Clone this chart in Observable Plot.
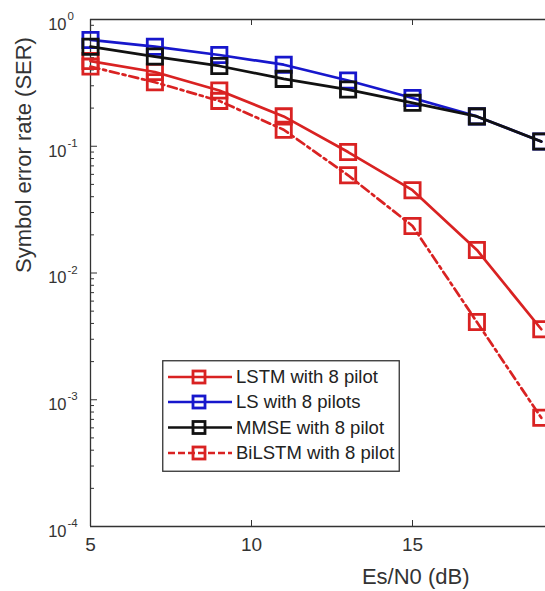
<!DOCTYPE html>
<html><head><meta charset="utf-8">
<script src="https://cdn.jsdelivr.net/npm/d3@7"></script>
<script src="https://cdn.jsdelivr.net/npm/@observablehq/plot@0.6"></script>
<style>
html,body{margin:0;padding:0;background:#fff;overflow:hidden;}
#wrap{position:relative;width:545px;height:591px;overflow:hidden;}
#legend{position:absolute;left:162px;top:360px;}
</style></head><body><div id="wrap"></div>
<script>
// Es/N0 (dB)
const snr = [5, 7, 9, 11, 13, 15, 17, 19];
// Symbol error rate per method
const lstm   = [0.47, 0.385, 0.275, 0.172, 0.090, 0.045, 0.0152, 0.0036];
const ls     = [0.69, 0.61, 0.525, 0.44, 0.33, 0.24, 0.172, 0.109];
const mmse   = [0.61, 0.51, 0.43, 0.34, 0.28, 0.22, 0.172, 0.109];
const bilstm = [0.425, 0.32, 0.228, 0.135, 0.059, 0.0235, 0.0041, 0.00072];
const seriesNames = ["LSTM with 8 pilot", "LS with 8 pilots", "MMSE with 8 pilot", "BiLSTM with 8 pilot"];
const seriesColors = ["#d92222", "#1717cc", "#111111", "#d92222"];
const seriesDash = [null, null, null, "9,4,3,4"];
const xTicks = [5, 10, 15];
const yTicks = [1, 0.1, 0.01, 0.001, 0.0001];
const yExponents = ["0", "-1", "-2", "-3", "-4"];
const xTitle = "Es/N0 (dB)";
const yTitle = "Symbol error rate (SER)";

const seriesValues = [lstm, ls, mmse, bilstm];
const FONT = '"Liberation Sans", Arial, Helvetica, sans-serif';
const axisColor = "#333333";
const minorTicks = d3.scaleLog().domain([1e-4, 1]).ticks().filter(v => !yTicks.some(t => Math.abs(Math.log10(v) - Math.log10(t)) < 1e-6));
const yLabels = yTicks.map((v, i) => ({v, e: yExponents[i]}));

const seriesMarks = [];
seriesValues.forEach((vals, i) => {
  const rows = snr.map((x, j) => ({x, y: vals[j]}));
  seriesMarks.push(Plot.line(rows, {x: "x", y: "y", stroke: seriesColors[i], strokeWidth: 2.7, strokeDasharray: seriesDash[i]}));
  seriesMarks.push(Plot.dot(rows, {x: "x", y: "y", symbol: "square", r: 8.6, stroke: seriesColors[i], strokeWidth: 2.8, fill: "none"}));
});

const chart = Plot.plot({
  width: 545, height: 591,
  marginLeft: 90, marginRight: 0, marginTop: 19, marginBottom: 65,
  x: {type: "linear", domain: [5, 20], range: [90, 573], axis: null},
  y: {type: "log", domain: [1e-4, 1], range: [526, 19], axis: null},
  style: {fontFamily: FONT, background: "white", color: axisColor},
  marks: [
    // axes box
    Plot.ruleX([5], {stroke: axisColor, strokeWidth: 1.3}),
    Plot.ruleY([1e-4], {stroke: axisColor, strokeWidth: 1.3}),
    Plot.ruleY([1], {stroke: axisColor, strokeWidth: 1.3}),
    // ticks (inside)
    Plot.ruleX(xTicks, {insetTop: 501, stroke: axisColor}),
    Plot.ruleX(xTicks, {insetBottom: 501, stroke: axisColor}),
    Plot.ruleY(yTicks, {insetRight: 448, stroke: axisColor}),
    Plot.ruleY(minorTicks, {insetRight: 451, stroke: axisColor}),
    // tick labels
    Plot.text(xTicks, {x: d => d, frameAnchor: "bottom", dy: 24, fontSize: 19, fill: axisColor, text: d => String(d)}),
    Plot.text(yLabels, {y: "v", frameAnchor: "left", dx: -24, dy: 5, textAnchor: "end", fontSize: 16.5, fill: axisColor, text: () => "10"}),
    Plot.text(yLabels, {y: "v", frameAnchor: "left", dx: -23, dy: -3, textAnchor: "start", fontSize: 11.5, fill: axisColor, text: "e"}),
    // titles
    Plot.text([xTitle], {x: () => 15.1, frameAnchor: "bottom", dy: 57, fontSize: 22, fill: axisColor, text: d => d}),
    Plot.text([yTitle], {frameAnchor: "left", dx: -67, rotate: -90, fontSize: 22, fill: axisColor, text: d => d}),
    ...seriesMarks
  ]
});
const wrap = document.getElementById("wrap");
wrap.appendChild(chart);

// Legend (inside the axes, drawn as an overlay)
const W = 238, H = 112, rowY = [17, 42, 67.5, 93];
const leg = d3.select(wrap).append("svg").attr("id", "legend").attr("width", W).attr("height", H);
leg.append("rect").attr("x", 0.75).attr("y", 0.75).attr("width", W - 1.5).attr("height", H - 1.5)
  .attr("fill", "white").attr("stroke", axisColor).attr("stroke-width", 1.3);
seriesNames.forEach((name, i) => {
  const g = leg.append("g").attr("transform", `translate(0,${rowY[i]})`);
  g.append("line").attr("x1", 6).attr("x2", 70).attr("y1", 0).attr("y2", 0)
    .attr("stroke", seriesColors[i]).attr("stroke-width", 2.7)
    .attr("stroke-dasharray", seriesDash[i] ? "7,3" : null);
  g.append("rect").attr("x", 31).attr("y", -6).attr("width", 12).attr("height", 12)
    .attr("fill", "none").attr("stroke", seriesColors[i]).attr("stroke-width", 2.8);
  g.append("text").attr("x", 74).attr("y", 0).attr("dy", "0.35em")
    .attr("font-family", FONT).attr("font-size", 18.5).attr("fill", "#222").text(name);
});
</script></body></html>
